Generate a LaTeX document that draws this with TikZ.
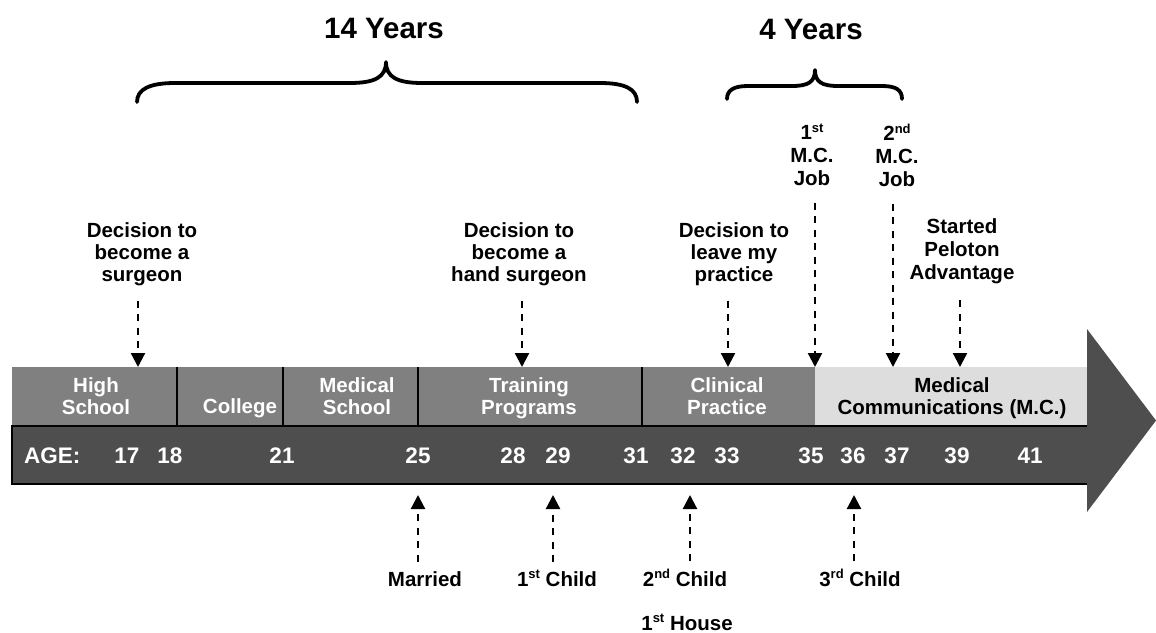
\documentclass[tikz,border=0pt]{standalone}
\usepackage{fontspec}
\setmainfont{Liberation Sans}
\usetikzlibrary{arrows.meta}
\definecolor{segA}{RGB}{128,128,128}
\definecolor{segL}{RGB}{221,221,221}
\definecolor{ageD}{RGB}{78,78,78}
\newcommand\mysup[1]{\raisebox{7.5pt}{\fontsize{13}{13}\selectfont #1}}
\begin{document}
\begin{tikzpicture}[x=1pt,y=-1pt,
  lab/.style={font=\fontsize{20.5}{22}\selectfont\bfseries, align=center, inner sep=0pt},
  labw/.style={lab, font=\fontsize{20.5}{23}\selectfont\bfseries},
  seglab/.style={lab, text=white},
  agelab/.style={font=\fontsize{22.5}{22.5}\selectfont\bfseries, text=white, inner sep=0pt, anchor=base},
  title/.style={font=\fontsize{29.5}{31}\selectfont\bfseries, inner sep=0pt, anchor=base},
  darr/.style={line width=2.3pt, dash pattern=on 7pt off 6.5pt, -{Triangle[length=14pt,width=14pt]}},
  brace/.style={line width=3.8pt, line cap=round, line join=round},
  sep/.style={line width=2pt}
]
\useasboundingbox (0,0) rectangle (1156,632);

% ---- bars ----
\fill[segA] (12,367) rectangle (815,426);
\fill[segL] (815,367) rectangle (1087,426);
\fill[ageD] (12,426) rectangle (1087,484);
\draw[sep] (1087,426) -- (12,426) -- (12,484) -- (1087,484);
\draw[sep] (176.7,367) -- (176.7,426);
\draw[sep] (282.7,367) -- (282.7,426);
\draw[sep] (418.3,367) -- (418.3,426);
\draw[sep] (641.7,367) -- (641.7,426);
\fill[ageD] (1087,329) -- (1156,420.5) -- (1087,512) -- cycle;

% ---- segment labels ----
\node[seglab, anchor=north] (hs) at (96,377) {High\\School};
\node[seglab, anchor=base] (col) at (240,413) {College};
\node[seglab, anchor=north] (ms) at (357,377) {Medical\\School};
\node[seglab, anchor=north] (tp) at (529,377) {Training\\Programs};
\node[seglab, anchor=north] (cp) at (727,377) {Clinical\\Practice};
\node[lab, anchor=north] (mc) at (952,377) {Medical\\Communications (M.C.)};

% ---- ages ----
\node[agelab, anchor=base west] (age) at (24,463) {AGE:};
\node[agelab] (a17) at (127,463) {17};
\node[agelab] (a18) at (170,463) {18};
\node[agelab] (a21) at (282,463) {21};
\node[agelab] (a25) at (418,463) {25};
\node[agelab] (a28) at (513,463) {28};
\node[agelab] (a29) at (558,463) {29};
\node[agelab] (a31) at (636,463) {31};
\node[agelab] (a32) at (683,463) {32};
\node[agelab] (a33) at (727,463) {33};
\node[agelab] (a35) at (811,463) {35};
\node[agelab] (a36) at (853,463) {36};
\node[agelab] (a37) at (897,463) {37};
\node[agelab] (a39) at (957,463) {39};
\node[agelab] (a41) at (1030,463) {41};

% ---- titles and braces ----
\node[title] (t14) at (384,38) {14 Years};
\node[title] (t4) at (811,39) {4 Years};
\draw[brace] (137,102) .. controls (137,89) and (150,83) .. (175,83) -- (350,83)
  .. controls (375,83) and (386,77) .. (386,62)
  .. controls (386,77) and (397,83) .. (422,83) -- (600,83)
  .. controls (625,83) and (637,89) .. (637,102);
\draw[brace] (727,99) .. controls (727,90) and (734,86) .. (748,86) -- (792,86)
  .. controls (808,86) and (815,82) .. (815,70)
  .. controls (815,82) and (822,86) .. (838,86) -- (882,86)
  .. controls (896,86) and (902,90) .. (902,99);

% ---- upper events ----
\coordinate (p1) at (138,367);
\coordinate (p2) at (522,367);
\coordinate (p3) at (728,367);
\coordinate (p4) at (815,367);
\coordinate (p5) at (893,367);
\coordinate (p6) at (960,367);
\node[lab, anchor=north] (e1) at (142,222.3) {Decision to\\become a\\surgeon};
\node[lab, anchor=north] (e2) at (519,222.3) {Decision to\\become a\\hand surgeon};
\node[lab, anchor=north] (e3) at (734,222.3) {Decision to\\leave my\\practice};
\node[labw, anchor=north] (e4) at (812,123.5) {1\mysup{st}\\M.C.\\Job};
\node[labw, anchor=north] (e5) at (897,123.5) {2\mysup{nd}\\M.C.\\Job};
\node[labw, anchor=north] (e6) at (962,218) {Started\\Peloton\\Advantage};
\draw[darr, shorten <=14.7pt] (e1.south -| p1) -- (p1);
\draw[darr, shorten <=14.7pt] (e2.south -| p2) -- (p2);
\draw[darr, shorten <=14.7pt] (e3.south -| p3) -- (p3);
\draw[darr, shorten <=16.5pt] (e4.south -| p4) -- (p4);
\draw[darr, shorten <=16.5pt] (e5.south -| p5) -- (p5);
\draw[darr, shorten <=16.7pt] (e6.south -| p6) -- (p6);

% ---- lower events ----
\coordinate (q1) at (418,495);
\coordinate (q2) at (553,495);
\coordinate (q3) at (690,495);
\coordinate (q4) at (854,495);
\node[lab, anchor=base] (m) at (425,586) {Married};
\node[lab, anchor=base] (c1) at (557,586) {1\mysup{st} Child};
\node[lab, anchor=base] (c2) at (685,586) {2\mysup{nd} Child};
\node[lab, anchor=base] (h1) at (687,630) {1\mysup{st} House};
\node[lab, anchor=base] (c3) at (860,586) {3\mysup{rd} Child};
\draw[darr, shorten <=9.3pt] (m.north -| q1) -- (q1);
\draw[darr, shorten <=7.5pt] (c1.north -| q2) -- (q2);
\draw[darr, shorten <=7.5pt] (c2.north -| q3) -- (q3);
\draw[darr, shorten <=7.5pt] (c3.north -| q4) -- (q4);
\end{tikzpicture}
\end{document}
